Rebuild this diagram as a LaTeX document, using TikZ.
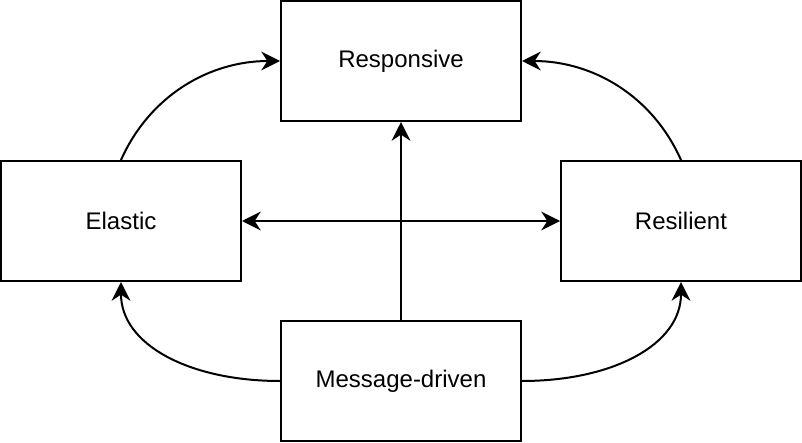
\documentclass[tikz,border=0pt]{standalone}
\usepackage{fontspec}
\setmainfont{Liberation Sans}
\usetikzlibrary{arrows.meta}

\tikzset{
  blockbox/.style={draw, line width=1.5pt, minimum width=180pt, minimum height=90pt, inner sep=0pt, font=\fontsize{18pt}{21pt}\selectfont},
  tip/.tip={Stealth[length=14pt,width=14pt,inset=4.5pt]},
  flowline/.style={line width=1.5pt, -tip},
  bothline/.style={line width=1.5pt, tip-tip},
}

\begin{document}
\begin{tikzpicture}[x=0.75pt,y=0.75pt,yscale=-1,xscale=1]
\useasboundingbox (0,0) rectangle (802,442);

% Boxes
\node[blockbox] (responsive) at (401,61) {Responsive};
\node[blockbox] (elastic) at (121,221) {Elastic};
\node[blockbox] (resilient) at (681,221) {Resilient};
\node[blockbox] (message) at (401,381) {Message-driven};

% Curved Lines
\draw[flowline] (elastic.north) .. controls (150,95) and (210,61) .. (responsive.west);
\draw[flowline] (resilient.north) .. controls (652,95) and (592,61) .. (responsive.east);
\draw[flowline] (message.west) .. controls (190,381) and (121,345) .. (elastic.south);
\draw[flowline] (message.east) .. controls (612,381) and (681,345) .. (resilient.south);

% Straight Lines
\draw[flowline] (message.north) -- (responsive.south);
\draw[bothline] (elastic.east) -- (resilient.west);

\end{tikzpicture}
\end{document}
